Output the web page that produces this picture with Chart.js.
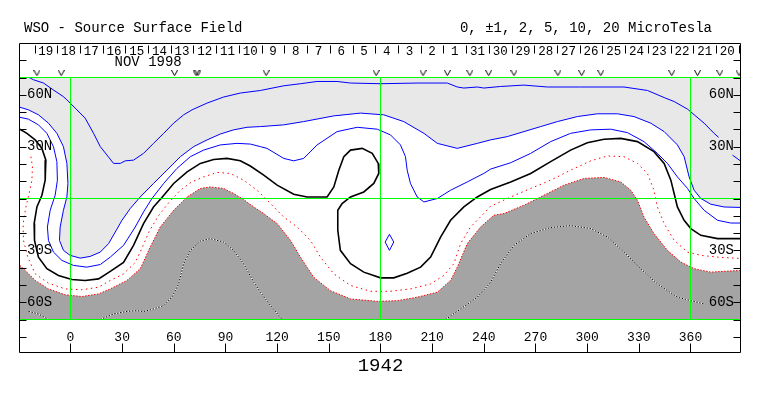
<!DOCTYPE html>
<html>
<head>
<meta charset="utf-8">
<title>WSO - Source Surface Field</title>
<script src="https://cdn.jsdelivr.net/npm/chart.js"></script>
<style>
  html, body { margin: 0; padding: 0; background: #fff; }
</style>
</head>
<body>
<canvas id="mapaCampo" width="763" height="396"></canvas>
<script>
// Mapa del campo en la superficie fuente (WSO), rotación de Carrington 1942
// Puntos [longitud, latitud] en grados leídos del mapa; [null, null] corta la línea

// Límites de los ejes (el marco incluye las franjas de fechas y de longitudes)
const lonMin = -29.32;
const lonMax = 389.33;
const latMin = -89.38;
const latMax = 89.96;

// Contorno +5 microTesla (azul, dentro de la zona gris clara)
const contornoMas5 = [
  [-24.0, 70.0], [-21.5, 68.7], [-15.7, 66.8], [-10.1, 62.9], [-4.2, 59.0], [-2.1, 57.1],
  [2.7, 52.3], [8.5, 46.5], [13.4, 37.7], [17.3, 30.0], [21.2, 25.1], [25.0, 20.3],
  [28.9, 20.3], [31.8, 21.8], [36.6, 22.2], [42.4, 26.1], [48.2, 31.9], [54.1, 37.7],
  [59.9, 43.6], [65.7, 48.4], [70.6, 51.3], [79.3, 55.2], [88.9, 58.7], [98.6, 61.0],
  [110.3, 62.5], [123.8, 65.2], [133.5, 66.4], [143.2, 67.7], [154.8, 67.7], [162.6, 66.8],
  [180.0, 66.4], [201.3, 66.8], [218.8, 66.8], [224.6, 64.5], [228.4, 63.9], [236.2, 64.5],
  [240.0, 63.9], [249.7, 64.8], [263.3, 65.6], [276.9, 64.5], [296.2, 64.5], [321.4, 64.5],
  [335.0, 62.5], [344.7, 58.4], [350.5, 56.1], [358.3, 51.7], [367.9, 43.6], [373.7, 37.7],
  [376.3, 35.4], [null, null], [384.4, 25.1], [390, 21.0]
];

// Contorno +2 (azul, borde de la zona gris clara)
const contornoMas2 = [
  [-29.4, 52.8], [-24.4, 51.3], [-18.6, 48.4], [-12.8, 43.6], [-7.9, 37.7], [-4.1, 30.0],
  [-2.1, 20.3], [-1.5, 8.7], [-2.1, 0.9], [-4.1, -6.8], [-6.0, -16.5], [-6.4, -24.2],
  [-4.1, -30.0], [-0.2, -32.9], [5.6, -34.5], [11.4, -33.5], [17.3, -31.0], [22.1, -26.1],
  [26.0, -19.4], [29.9, -12.6], [34.7, -5.8], [40.5, 0.9], [48.2, 8.7], [56.0, 16.4],
  [63.8, 24.2], [71.5, 30.0], [79.3, 33.9], [87.0, 37.3], [94.7, 39.7], [102.5, 41.2],
  [110.3, 41.6], [123.8, 42.6], [135.4, 44.5], [152.9, 47.8], [168.4, 49.4], [181.9, 48.4],
  [193.5, 44.5], [205.2, 37.7], [213.0, 31.9], [224.6, 29.0], [236.2, 31.9], [243.9, 33.9],
  [253.6, 35.8], [263.3, 38.7], [273.0, 41.6], [282.7, 44.5], [294.3, 47.4], [305.9, 49.0],
  [317.6, 49.0], [327.2, 47.4], [336.9, 43.6], [344.7, 38.7], [352.4, 31.0], [356.3, 24.2],
  [359.2, 12.5], [362.1, 4.8], [366.0, 0.0], [371.8, -3.3], [379.5, -4.9], [390, -5.2]
];

// Contorno +1 (azul)
const contornoMas1 = [
  [-29.4, 47.0], [-24.4, 45.9], [-18.6, 42.6], [-13.7, 37.7], [-9.9, 30.0], [-7.9, 21.3],
  [-7.6, 10.6], [-8.9, 1.9], [-11.8, -6.8], [-13.4, -16.5], [-12.8, -24.2], [-9.9, -31.0],
  [-5.0, -35.8], [1.7, -38.7], [9.5, -39.7], [17.3, -38.2], [23.1, -33.9], [30.8, -27.1],
  [37.6, -16.5], [42.4, -7.8], [47.3, 0.0], [54.1, 8.7], [61.8, 17.4], [69.6, 24.2],
  [77.3, 28.0], [87.0, 31.0], [96.7, 31.9], [104.4, 31.5], [110.3, 30.0], [114.1, 29.0],
  [123.8, 23.2], [129.6, 21.8], [135.4, 23.2], [143.2, 31.0], [154.8, 38.7], [166.5, 41.2],
  [178.1, 40.1], [185.8, 36.8], [191.6, 31.0], [194.5, 24.2], [195.5, 16.4], [197.4, 8.7],
  [201.3, 0.9], [205.2, -2.0], [213.0, 0.0], [220.7, 4.8], [230.4, 9.6], [240.0, 14.5],
  [243.9, 17.0], [255.6, 20.7], [267.2, 26.1], [278.8, 32.9], [290.4, 37.7], [302.1, 39.7],
  [313.7, 40.1], [323.4, 38.1], [333.0, 32.9], [340.8, 26.1], [346.6, 20.3], [352.4, 12.5],
  [358.3, 5.8], [362.1, 0.0], [367.9, -6.8], [375.7, -12.6], [383.4, -14.2], [390, -14.2]
];

// Pequeño contorno +1 cerrado cerca de 185 grados
const islaMas1 = [
  [185.2, -20.7], [187.7, -25.2], [185.2, -30.0], [182.7, -25.2], [185.2, -20.7]
];

// Línea neutra (0, negra)
const contornoCero = [
  [-29.4, 40.1], [-25.3, 37.7], [-20.5, 33.9], [-16.6, 29.0], [-14.3, 22.2], [-14.7, 10.6],
  [-16.6, 1.9], [-19.5, -4.9], [-21.1, -14.5], [-20.9, -24.2], [-18.6, -33.9], [-13.7, -40.6],
  [-7.0, -44.5], [0.8, -46.9], [8.5, -47.4], [16.3, -46.5], [23.1, -42.2], [30.8, -37.0],
  [36.6, -27.1], [42.4, -14.5], [48.2, -4.9], [53.1, 0.6], [59.9, 8.7], [67.7, 15.4],
  [75.4, 20.3], [83.1, 22.6], [90.9, 23.2], [98.6, 21.8], [104.4, 18.8], [112.2, 13.5],
  [120.0, 7.7], [129.6, 2.5], [137.4, 0.9], [149.0, 0.9], [152.9, 6.7], [155.8, 16.4],
  [158.7, 24.2], [162.6, 28.0], [169.4, 29.0], [175.2, 26.1], [178.7, 20.3], [179.0, 14.5],
  [176.1, 8.7], [170.3, 3.8], [162.6, 0.9], [157.7, -2.9], [155.2, -6.8], [155.2, -18.4],
  [156.7, -30.0], [162.6, -37.7], [170.3, -42.6], [180.0, -45.9], [187.7, -45.9], [195.5, -43.2],
  [203.3, -39.7], [209.1, -33.9], [214.9, -22.3], [220.7, -12.6], [228.4, -4.9], [236.2, 0.9],
  [243.9, 5.2], [255.6, 9.6], [267.2, 14.5], [278.8, 21.3], [290.4, 28.0], [300.1, 32.3],
  [309.8, 34.3], [319.5, 34.8], [329.2, 32.9], [338.8, 27.1], [344.7, 20.3], [348.6, 10.6],
  [350.5, 2.9], [352.4, -4.9], [356.3, -12.6], [360.2, -17.4], [366.0, -21.3], [375.7, -23.2],
  [390, -23.2]
];

// Contorno -1 (rojo punteado)
const contornoMenos1 = [
  [-23.0, 24.2], [-22.1, 18.4], [-22.4, 10.6], [-24.0, 2.9], [-25.9, -4.9], [-27.5, -14.5],
  [-27.3, -24.2], [-24.8, -33.9], [-20.5, -43.6], [-12.8, -49.0], [-3.1, -52.3], [6.6, -52.8],
  [16.3, -51.3], [23.1, -47.4], [30.8, -43.6], [37.6, -37.0], [41.7, -28.3], [45.7, -19.0],
  [51.0, -10.1], [57.4, -2.0], [63.8, 4.8], [70.2, 9.5], [77.3, 12.5], [85.1, 15.1],
  [92.8, 14.5], [100.5, 10.6], [108.3, 4.8], [116.1, -2.9], [123.8, -10.7], [131.6, -16.5],
  [139.3, -24.2], [145.1, -33.9], [152.9, -43.6], [162.6, -50.3], [174.2, -53.7], [185.8, -53.7],
  [197.4, -52.3], [209.1, -49.4], [216.8, -44.5], [222.6, -37.7], [226.5, -26.1], [232.3, -16.5],
  [240.0, -8.7], [243.9, -4.5], [255.6, 0.9], [267.2, 5.8], [278.8, 10.6], [290.4, 16.4],
  [302.1, 21.8], [311.8, 24.6], [321.4, 24.2], [329.2, 20.3], [335.0, 14.5], [338.8, 4.8],
  [340.8, -4.9], [344.7, -14.5], [350.5, -24.2], [358.3, -31.0], [366.0, -32.9], [377.6, -34.1],
  [390, -34.7]
];

// Contorno -2 (rojo punteado, borde de la zona gris oscura)
const contornoMenos2 = [
  [-29.4, -38.7], [-26.3, -41.6], [-20.5, -47.4], [-12.8, -52.3], [-3.1, -55.7], [6.6, -56.7],
  [16.3, -55.2], [23.1, -52.3], [32.8, -47.4], [40.5, -40.6], [46.3, -28.1], [52.1, -16.5],
  [59.9, -6.8], [67.7, 0.9], [75.4, 5.8], [81.2, 6.7], [88.9, 5.8], [94.7, 2.9],
  [100.5, -0.6], [106.4, -4.9], [110.3, -7.4], [120.0, -14.5], [127.7, -24.2], [133.5, -33.9],
  [141.2, -45.5], [150.9, -53.3], [162.6, -58.1], [178.1, -59.5], [189.7, -59.1], [201.3, -57.1],
  [213.0, -54.2], [220.7, -47.4], [224.6, -39.7], [230.4, -26.1], [238.1, -16.5], [245.8, -9.7],
  [251.7, -8.7], [263.3, -3.9], [274.9, 1.9], [286.5, 7.7], [298.2, 11.6], [309.8, 12.2],
  [319.5, 9.6], [325.3, 4.8], [329.2, -1.0], [333.0, -10.7], [338.8, -20.3], [346.6, -30.0],
  [354.4, -36.8], [362.1, -40.6], [371.8, -42.6], [381.5, -42.0], [390, -41.6]
];

// Contorno -5 (punteado blanco y negro, dentro de la zona gris oscura)
const contornoMenos5 = [
  [-24.4, -65.3], [-18.6, -66.8], [-12.8, -70], [null, null],
  [17.3, -70], [25.0, -66.8], [32.8, -65.3], [38.6, -64.9], [42.4, -65.4], [48.2, -63.9],
  [54.1, -62.0], [58.9, -57.1], [62.8, -49.4], [65.7, -37.7], [69.6, -30.0], [75.4, -24.6],
  [81.2, -23.2], [88.9, -25.2], [94.7, -30.0], [100.5, -37.7], [106.4, -48.4], [110.3, -54.2],
  [116.1, -61.9], [122.9, -70], [null, null],
  [217.8, -70], [226.5, -63.9], [236.2, -57.1], [243.9, -48.6], [249.7, -37.7], [257.5, -27.1],
  [267.2, -20.3], [278.8, -16.8], [290.4, -15.7], [302.1, -17.4], [311.8, -22.3], [321.4, -31.0],
  [331.1, -40.6], [340.8, -49.4], [352.4, -57.1], [360.2, -59.1], [367.9, -61.0]
];

// Marcas "v" sobre el borde superior (longitudes)
const marcasV = [-19.5, -5.4, 60.4, 72.9, 74.0, 113.6, 177.5, 204.7, 218.8, 231.9, 242.8,
  257.5, 283.0, 296.8, 307.9, 349.1, 364.1, 377.0, 388.2];
const latMarcasV = 72.5;

// Días del mes (franja superior): límites en longitud y etiquetas
const limitesDias = [-20.9, -7.7, 5.5, 18.7, 31.9, 45.1, 58.2, 71.4, 84.6, 97.8, 111.0, 124.2,
  137.4, 150.6, 163.8, 177.0, 190.2, 203.4, 216.5, 229.7, 242.9, 256.1, 269.3, 282.5, 295.7,
  308.9, 322.1, 335.3, 348.5, 361.7, 374.8, 388.0];
const etiquetasDias = ['19', '18', '17', '16', '15', '14', '13', '12', '11', '10', '9', '8', '7',
  '6', '5', '4', '3', '2', '1', '31', '30', '29', '28', '27', '26', '25', '24', '23', '22', '21', '20'];
const etiquetaMes = { texto: 'NOV 1998', lon: 45.1, lat: 79 };

// Ejes
const marcasLon = [0, 30, 60, 90, 120, 150, 180, 210, 240, 270, 300, 330, 360];
const marcasLat = [80, 70, 60, 50, 40, 30, 20, 10, 0, -10, -20, -30, -40, -50, -60, -70, -80];
const etiquetasLat = ['60N', '30N', '30S', '60S'];
const valoresEtiquetasLat = [60, 30, -30, -60];
const lineasVerdesLat = [70, 0, -70];
const lineasVerdesLon = [0, 180, 360];

const tituloIzq = 'WSO - Source Surface Field';
const tituloDer = '0, \u00b11, 2, 5, 10, 20 MicroTesla';
const rotacion = '1942';

const fuente = '"Liberation Mono", "DejaVu Sans Mono", monospace';

// Convierte pares [lon, lat] en puntos de Chart.js
function serie(puntos) {
  return puntos.map(p => ({ x: p[0], y: p[1] }));
}

function crearLinea(puntos, color, extra) {
  return Object.assign({
    data: serie(puntos),
    showLine: true,
    borderColor: color,
    backgroundColor: color,
    borderWidth: 1,
    pointRadius: 0,
    pointHoverRadius: 0,
    fill: false,
    tension: 0,
    order: 5
  }, extra || {});
}

function crearZona(puntos, color, orden) {
  return crearLinea(puntos, 'rgba(0,0,0,0)', {
    backgroundColor: color,
    borderWidth: 0,
    fill: 'shape',
    order: orden
  });
}

// Marca "v" dibujada en un canvas pequeño para usarla como pointStyle
function crearMarcaV() {
  const c = document.createElement('canvas');
  c.width = 7;
  c.height = 6;
  const g = c.getContext('2d');
  g.strokeStyle = '#000';
  g.lineWidth = 1;
  g.beginPath();
  g.moveTo(0.5, 0);
  g.lineTo(3.5, 5.5);
  g.lineTo(6.5, 0);
  g.stroke();
  return c;
}

// Marco, marcas y textos del mapa, situados con las escalas de Chart.js
const marcoWSO = {
  id: 'marcoWSO',
  afterDatasetsDraw(chart) {
    const { ctx, chartArea: area, scales: { x, y } } = chart;
    const izq = Math.round(area.left) - 0.5;
    const der = Math.round(area.right) - 0.5;
    const arriba = Math.round(area.top) + 0.5;
    const abajo = Math.round(area.bottom) - 0.5;
    const px = v => Math.round(x.getPixelForValue(v)) + 0.5;
    const py = v => Math.round(y.getPixelForValue(v)) + 0.5;

    ctx.save();
    ctx.strokeStyle = '#000';
    ctx.lineWidth = 1;
    ctx.beginPath();
    ctx.rect(izq, arriba, der - izq, abajo - arriba);
    marcasLat.forEach(lat => {
      ctx.moveTo(izq, py(lat)); ctx.lineTo(izq + 7, py(lat));
      ctx.moveTo(der - 7, py(lat)); ctx.lineTo(der, py(lat));
    });
    marcasLon.forEach(lon => {
      ctx.moveTo(px(lon), abajo); ctx.lineTo(px(lon), abajo - 9);
    });
    limitesDias.forEach(lon => {
      ctx.moveTo(px(lon), arriba + 2); ctx.lineTo(px(lon), arriba + 10);
    });
    ctx.stroke();

    ctx.fillStyle = '#000';
    ctx.textBaseline = 'middle';

    ctx.font = '14px ' + fuente;
    ctx.textAlign = 'left';
    ctx.fillText(tituloIzq, 24, 28);
    ctx.textAlign = 'right';
    ctx.fillText(tituloDer, 712, 28);

    // días en la franja superior
    ctx.font = '12.5px ' + fuente;
    ctx.textAlign = 'center';
    etiquetasDias.forEach((d, i) => {
      const centro = (x.getPixelForValue(limitesDias[i]) + x.getPixelForValue(limitesDias[i + 1])) / 2;
      ctx.fillText(d, centro, arriba + 8);
    });
    ctx.font = '14px ' + fuente;
    ctx.fillText(etiquetaMes.texto, x.getPixelForValue(etiquetaMes.lon), y.getPixelForValue(etiquetaMes.lat));

    // longitudes
    ctx.font = '13px ' + fuente;
    marcasLon.forEach(lon => ctx.fillText(String(lon), x.getPixelForValue(lon), abajo - 15));

    // latitudes a ambos lados
    ctx.font = '14px ' + fuente;
    etiquetasLat.forEach((t, i) => {
      const yy = y.getPixelForValue(valoresEtiquetasLat[i]);
      ctx.textAlign = 'left';
      ctx.fillText(t, izq + 7.5, yy);
      ctx.textAlign = 'right';
      ctx.fillText(t, der - 6.5, yy);
    });

    ctx.font = '19px ' + fuente;
    ctx.textAlign = 'center';
    ctx.fillText(rotacion, x.getPixelForValue(180), abajo + 13);
    ctx.restore();
  }
};

function initMapa() {
  const datasets = [];

  // líneas de referencia verdes (encima de los contornos)
  lineasVerdesLat.forEach(lat => {
    datasets.push(crearLinea([[lonMin, lat], [lonMax, lat]], '#00ff00', { order: 1 }));
  });
  lineasVerdesLon.forEach(lon => {
    datasets.push(crearLinea([[lon, -70], [lon, 70]], '#00ff00', { order: 1 }));
  });

  // marcas "v"
  datasets.push({
    data: marcasV.map(lon => ({ x: lon, y: latMarcasV })),
    showLine: false,
    pointStyle: crearMarcaV(),
    pointRadius: 3,
    pointHoverRadius: 3,
    order: 0
  });

  // contornos
  datasets.push(crearLinea(contornoMas5, '#0000ff'));
  datasets.push(crearLinea(contornoMas2, '#0000ff'));
  datasets.push(crearLinea(contornoMas1, '#0000ff'));
  datasets.push(crearLinea(islaMas1, '#0000ff'));
  datasets.push(crearLinea(contornoCero, '#000000', { borderWidth: 1.6 }));
  datasets.push(crearLinea(contornoMenos1, '#ff0000', { borderDash: [1.5, 3.5] }));
  datasets.push(crearLinea(contornoMenos2, '#ff0000', { borderDash: [1.5, 1.5] }));
  datasets.push(crearLinea(contornoMenos5, '#000000', { borderDash: [1.5, 1.5], order: 4 }));
  datasets.push(crearLinea(contornoMenos5, '#ffffff', { order: 6 }));

  // zonas sombreadas (debajo de todo)
  datasets.push(crearZona(contornoMas2.concat([[lonMax + 1, -5.2], [lonMax + 1, 70], [lonMin - 1, 70], [lonMin - 1, 52.8]]), '#e8e8e8', 10));
  datasets.push(crearZona(contornoMenos2.concat([[lonMax + 1, -41.6], [lonMax + 1, -70], [lonMin - 1, -70], [lonMin - 1, -38.7]]), '#a4a4a4', 9));

  new Chart(document.getElementById('mapaCampo').getContext('2d'), {
    type: 'scatter',
    data: { datasets },
    options: {
      responsive: false,
      animation: false,
      devicePixelRatio: 1,
      events: [],
      layout: { padding: { left: 20, right: 22, top: 43, bottom: 43 } },
      scales: {
        x: { type: 'linear', min: lonMin, max: lonMax, display: false },
        y: { type: 'linear', min: latMin, max: latMax, display: false }
      },
      plugins: {
        legend: { display: false },
        tooltip: { enabled: false },
        title: { display: false }
      }
    },
    plugins: [marcoWSO]
  });
}

document.addEventListener('DOMContentLoaded', initMapa);
</script>
</body>
</html>
